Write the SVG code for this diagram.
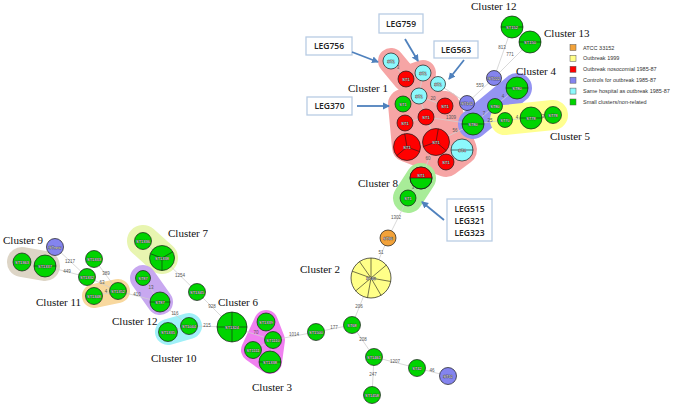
<svg xmlns="http://www.w3.org/2000/svg" width="677" height="407" viewBox="0 0 677 407">
<style>
.e{stroke:#cfcfcf;stroke-width:0.8}
.el{font-family:"Liberation Sans",sans-serif;font-size:4.5px;fill:#555;text-anchor:middle}
circle{stroke:#1a1a1a;stroke-width:0.7}
.g{fill:#00d400}.r{fill:#ff0000}.c{fill:#8cf8fc}.b{fill:#8484ee}.y{fill:#ffff88}.o{fill:#f2a23a}
.nl{font-family:"Liberation Sans",sans-serif;font-size:4px;fill:#fff;stroke:#333;stroke-width:0.6;paint-order:stroke;text-anchor:middle}
.dv{stroke:#1a1a1a;stroke-width:0.6;fill:none}
.cl{font-family:"Liberation Serif",serif;font-size:11px;fill:#111}
.lb{fill:#fff;stroke:#b8cce4;stroke-width:1.3}
.lt{font-family:"Open Sans","Liberation Sans",sans-serif;font-weight:600;font-size:8.5px;fill:#222;text-anchor:middle}
.ar{stroke:#4f81bd;stroke-width:1.8;fill:none;marker-end:url(#ah)}
.blob{fill:none;stroke-linecap:round;stroke-linejoin:round}
.lg{font-family:"Liberation Sans",sans-serif;font-size:5.5px;fill:#333}
.sq{stroke:#555;stroke-width:0.5}
</style>
<defs>
<marker id="ah" markerWidth="8" markerHeight="8" refX="6" refY="4" orient="auto" markerUnits="userSpaceOnUse">
<path d="M0,0.5 L7,4 L0,7.5 Z" fill="#4f81bd"/>
</marker>
</defs>

<g id="cluster-backgrounds">
<path class="blob" d="M391,61 L406,79 L423,73 L419,96" stroke="#f6a5a5" stroke-width="26"/>
<path d="M403,104 L445,106 L462,150 L446,162 L407,147 Z" fill="#f6a5a5" stroke="#f6a5a5" stroke-width="30" stroke-linejoin="round"/>
<path class="blob" d="M421,178 L408,198" stroke="#a8ec98" stroke-width="30"/>
<path class="blob" d="M473,124 L517,88" stroke="#9494f2" stroke-width="30"/>
<path class="blob" d="M505,120 L553,115" stroke="#ffff90" stroke-width="30"/>
<path class="blob" d="M22,262 L45,266" stroke="#ddd5c6" stroke-width="30"/>
<path class="blob" d="M94,296 L118,291" stroke="#f8d89e" stroke-width="24"/>
<path class="blob" d="M143,241 L162,258" stroke="#e8f5b0" stroke-width="32"/>
<path class="blob" d="M143,278 L160,302" stroke="#c8a8f0" stroke-width="26"/>
<path class="blob" d="M168,332 L189,326" stroke="#a0f0f8" stroke-width="26"/>
<path d="M266,322 L273,340 L270,362 L253,350 Z" fill="#f080f0" stroke="#f080f0" stroke-width="24" stroke-linejoin="round"/>
</g>

<g id="connectors">
<line class="e" x1="391" y1="61" x2="406" y2="79"/>
<line class="e" x1="406" y1="79" x2="423" y2="73"/>
<line class="e" x1="423" y1="73" x2="419" y2="96"/>
<line class="e" x1="423" y1="73" x2="438" y2="84"/>
<line class="e" x1="419" y1="96" x2="403" y2="104"/>
<line class="e" x1="419" y1="96" x2="426" y2="117"/>
<line class="e" x1="419" y1="96" x2="445" y2="106"/>
<line class="e" x1="426" y1="117" x2="405" y2="123"/>
<line class="e" x1="426" y1="117" x2="436" y2="142"/>
<line class="e" x1="436" y1="142" x2="407" y2="147"/>
<line class="e" x1="436" y1="142" x2="462" y2="150"/>
<line class="e" x1="436" y1="142" x2="446" y2="162"/>
<line class="e" x1="438" y1="84" x2="467" y2="103"/>
<line class="e" x1="426" y1="117" x2="473" y2="124"/>
<line class="e" x1="436" y1="142" x2="473" y2="124"/>
<line class="e" x1="467" y1="103" x2="494" y2="78"/>
<line class="e" x1="494" y1="78" x2="512" y2="27"/>
<line class="e" x1="494" y1="78" x2="530" y2="42"/>
<line class="e" x1="473" y1="124" x2="495" y2="106"/>
<line class="e" x1="495" y1="106" x2="517" y2="88"/>
<line class="e" x1="473" y1="124" x2="505" y2="120"/>
<line class="e" x1="505" y1="120" x2="531" y2="118"/>
<line class="e" x1="531" y1="118" x2="553" y2="115"/>
<line class="e" x1="436" y1="142" x2="421" y2="178"/>
<line class="e" x1="421" y1="178" x2="408" y2="198"/>
<line class="e" x1="408" y1="198" x2="388" y2="238"/>
<line class="e" x1="388" y1="238" x2="371" y2="278"/>
<line class="e" x1="371" y1="278" x2="352" y2="325"/>
<line class="e" x1="352" y1="325" x2="316" y2="332"/>
<line class="e" x1="352" y1="325" x2="374" y2="357"/>
<line class="e" x1="374" y1="357" x2="417" y2="368"/>
<line class="e" x1="417" y1="368" x2="448" y2="376"/>
<line class="e" x1="374" y1="357" x2="372" y2="395"/>
<line class="e" x1="316" y1="332" x2="273" y2="340"/>
<line class="e" x1="266" y1="322" x2="273" y2="340"/>
<line class="e" x1="273" y1="340" x2="253" y2="350"/>
<line class="e" x1="273" y1="340" x2="270" y2="362"/>
<line class="e" x1="232" y1="327" x2="273" y2="340"/>
<line class="e" x1="232" y1="327" x2="189" y2="326"/>
<line class="e" x1="189" y1="326" x2="168" y2="332"/>
<line class="e" x1="189" y1="326" x2="160" y2="302"/>
<line class="e" x1="232" y1="327" x2="197" y2="292"/>
<line class="e" x1="197" y1="292" x2="162" y2="258"/>
<line class="e" x1="143" y1="241" x2="162" y2="258"/>
<line class="e" x1="143" y1="278" x2="160" y2="302"/>
<line class="e" x1="160" y1="302" x2="118" y2="291"/>
<line class="e" x1="94" y1="296" x2="118" y2="291"/>
<line class="e" x1="87" y1="277" x2="118" y2="291"/>
<line class="e" x1="94" y1="259" x2="118" y2="291"/>
<line class="e" x1="87" y1="277" x2="45" y2="266"/>
<line class="e" x1="87" y1="277" x2="55" y2="247"/>
<line class="e" x1="22" y1="262" x2="45" y2="266"/>
</g>

<g id="edge-labels">
<text class="el" x="398" y="69">3</text>
<text class="el" x="433" y="100">20</text>
<text class="el" x="451" y="119">1309</text>
<text class="el" x="455" y="132">56</text>
<text class="el" x="480" y="87">559</text>
<text class="el" x="502" y="49">813</text>
<text class="el" x="510" y="56">771</text>
<text class="el" x="484" y="115">7</text>
<text class="el" x="503" y="98">4</text>
<text class="el" x="490" y="122">25</text>
<text class="el" x="517" y="119">4</text>
<text class="el" x="543" y="118">3</text>
<text class="el" x="428" y="160">60</text>
<text class="el" x="413" y="189">3</text>
<text class="el" x="396" y="219">1302</text>
<text class="el" x="381" y="254">51</text>
<text class="el" x="359" y="308">206</text>
<text class="el" x="334" y="329">177</text>
<text class="el" x="363" y="341">208</text>
<text class="el" x="395" y="363">1207</text>
<text class="el" x="432" y="372">46</text>
<text class="el" x="373" y="376">247</text>
<text class="el" x="294" y="336">1014</text>
<text class="el" x="256" y="334">70</text>
<text class="el" x="207" y="327">215</text>
<text class="el" x="175" y="315">116</text>
<text class="el" x="212" y="308">928</text>
<text class="el" x="180" y="277">1254</text>
<text class="el" x="151" y="289">13</text>
<text class="el" x="137" y="296">410</text>
<text class="el" x="106" y="293">4</text>
<text class="el" x="102" y="284">63</text>
<text class="el" x="106" y="275">389</text>
<text class="el" x="67" y="273">449</text>
<text class="el" x="70" y="263">1217</text>
</g>

<g id="n-c1a"><circle class="c" cx="391" cy="61" r="8"/><text class="nl" x="391" y="62.5">ST1</text></g>
<g id="n-c1b"><circle class="r" cx="406" cy="79" r="8"/><text class="nl" x="406" y="80.5">ST1</text></g>
<g id="n-c1c"><circle class="c" cx="423" cy="73" r="8"/><text class="nl" x="423" y="74.5">ST1</text></g>
<g id="n-c1d"><circle class="c" cx="438" cy="84" r="7.5"/><text class="nl" x="438" y="85.5">ST1</text></g>
<g id="n-c1e"><circle class="c" cx="419" cy="96" r="8"/><text class="nl" x="419" y="97.5">ST1</text></g>
<g id="n-c1f"><circle class="g" cx="403" cy="104" r="8"/><text class="nl" x="403" y="105.5">ST1</text></g>
<g id="n-c1g"><circle class="r" cx="445" cy="106" r="8"/><text class="nl" x="445" y="107.5">ST1</text></g>
<g id="n-c1h"><circle class="r" cx="426" cy="117" r="8"/><text class="nl" x="426" y="118.5">ST1</text></g>
<g id="n-c1i"><circle class="r" cx="405" cy="123" r="8"/><text class="nl" x="405" y="124.5">ST1</text></g>
<g id="n-c1j"><circle class="r" cx="407" cy="147" r="13.5"/><path class="dv" d="M407,147 L404.7,133.7 M407,147 L419.7,151.6 M407,147 L396.7,155.7"/><text class="nl" x="407" y="148.5">ST1</text></g>
<g id="n-c1k"><circle class="r" cx="436" cy="142" r="13.5"/><path class="dv" d="M436,142 L438.3,128.7 M436,142 L446.3,150.7 M436,142 L423.3,146.6"/><text class="nl" x="436" y="143.5">ST1</text></g>
<g id="n-c1l"><circle class="c" cx="462" cy="150" r="11"/><path class="dv" d="M451,150 H473"/><text class="nl" x="462" y="151.5">ST4</text></g>
<g id="n-c1m"><circle class="r" cx="446" cy="162" r="8"/><text class="nl" x="446" y="163.5">ST1</text></g>
<g id="n-st142"><circle class="b" cx="467" cy="103" r="7.5"/><text class="nl" x="467" y="104.5">ST142</text></g>
<g id="n-c4a"><circle class="g" cx="473" cy="124" r="11"/><path class="dv" d="M462,124 H484"/><text class="nl" x="473" y="125.5">ST80</text></g>
<g id="n-c4b"><circle class="g" cx="495" cy="106" r="7.5"/><text class="nl" x="495" y="107.5">ST80</text></g>
<g id="n-c4c"><circle class="g" cx="517" cy="88" r="11"/><path class="dv" d="M506,88 H528"/><text class="nl" x="517" y="89.5">ST80</text></g>
<g id="n-c5a"><circle class="g" cx="505" cy="120" r="7.5"/><text class="nl" x="505" y="121.5">ST70</text></g>
<g id="n-c5b"><circle class="g" cx="531" cy="118" r="11"/><path class="dv" d="M520,118 H542"/><text class="nl" x="531" y="119.5">ST78</text></g>
<g id="n-c5c"><circle class="g" cx="553" cy="115" r="8.5"/><text class="nl" x="553" y="116.5">ST78</text></g>
<g id="n-blue222"><circle class="b" cx="494" cy="78" r="7.5"/><text class="nl" x="494" y="79.5">ST222</text></g>
<g id="n-c12top"><circle class="g" cx="512" cy="27" r="11"/><path class="dv" d="M501,27 H523"/><text class="nl" x="512" y="28.5">ST152</text></g>
<g id="n-c13"><circle class="g" cx="530" cy="42" r="11"/><path class="dv" d="M519,42 H541"/><text class="nl" x="530" y="43.5">ST150</text></g>
<g id="n-c8a"><circle class="g" cx="421" cy="178" r="11"/><path class="r" d="M410,178 A11,11 0 0 1 432,178 Z"/><circle cx="421" cy="178" r="11" fill="none"/><path class="dv" d="M410,178 H432"/><text class="nl" x="421" y="177">ST1</text></g>
<g id="n-c8b"><circle class="g" cx="408" cy="198" r="8"/><text class="nl" x="408" y="199.5">ST1</text></g>
<g id="n-atcc"><circle class="o" cx="388" cy="238" r="8"/><text class="nl" x="388" y="239.5">ST36</text></g>
<g id="n-c2"><circle class="y" cx="371" cy="278" r="20"/><path class="dv" d="M371,278 L371,258 M371,278 L386.3,265.1 M371,278 L390.7,281.5 M371,278 L381,295.3 M371,278 L367.5,297.7 M371,278 L355.7,290.9 M371,278 L352.2,271.2 M371,278 L359.5,261.6"/><text class="nl" x="371" y="279.5">ST40</text></g>
<g id="n-g68"><circle class="g" cx="352" cy="325" r="8.5"/><text class="nl" x="352" y="326.5">ST68</text></g>
<g id="n-g1500"><circle class="g" cx="316" cy="332" r="8.5"/><text class="nl" x="316" y="333.5">ST1500</text></g>
<g id="n-g1461"><circle class="g" cx="374" cy="357" r="8.5"/><text class="nl" x="374" y="358.5">ST1461</text></g>
<g id="n-g42"><circle class="g" cx="417" cy="368" r="8.5"/><text class="nl" x="417" y="369.5">ST42</text></g>
<g id="n-b42"><circle class="b" cx="448" cy="376" r="8.5"/><text class="nl" x="448" y="377.5">ST42</text></g>
<g id="n-g1458"><circle class="g" cx="372" cy="395" r="8.5"/><text class="nl" x="372" y="396.5">ST1458</text></g>
<g id="n-c3a"><circle class="g" cx="266" cy="322" r="9"/><text class="nl" x="266" y="323.5">ST1339</text></g>
<g id="n-c3b"><circle class="g" cx="273" cy="340" r="8.5"/><text class="nl" x="273" y="341.5">ST1110</text></g>
<g id="n-c3c"><circle class="g" cx="253" cy="350" r="8.5"/><text class="nl" x="253" y="351.5">ST1111</text></g>
<g id="n-c3d"><circle class="g" cx="270" cy="362" r="11"/><path class="dv" d="M259,362 H281"/><text class="nl" x="270" y="363.5">ST1338</text></g>
<g id="n-c6"><circle class="g" cx="232" cy="327" r="15"/><path class="dv" d="M217,327 H247 M232,312 V342"/><text class="nl" x="232" y="328.5">ST1324</text></g>
<g id="n-c10a"><circle class="g" cx="189" cy="326" r="8.5"/><text class="nl" x="189" y="327.5">ST1044</text></g>
<g id="n-c10b"><circle class="g" cx="168" cy="332" r="9.5"/><text class="nl" x="168" y="333.5">ST1335</text></g>
<g id="n-g1345"><circle class="g" cx="197" cy="292" r="8.5"/><text class="nl" x="197" y="293.5">ST1345</text></g>
<g id="n-c7a"><circle class="g" cx="143" cy="241" r="8.5"/><text class="nl" x="143" y="242.5">ST1336</text></g>
<g id="n-c7b"><circle class="g" cx="162" cy="258" r="12.5"/><path class="dv" d="M162,258 L150.3,253.7 M162,258 L172.8,251.8 M162,258 L162,270.5"/><text class="nl" x="162" y="259.5">ST1338</text></g>
<g id="n-c12a"><circle class="g" cx="143" cy="278" r="7.5"/><text class="nl" x="143" y="279.5">ST87</text></g>
<g id="n-c12b"><circle class="g" cx="160" cy="302" r="10"/><path class="dv" d="M150,302 H170"/><text class="nl" x="160" y="303.5">ST87</text></g>
<g id="n-c11a"><circle class="g" cx="94" cy="296" r="8.5"/><text class="nl" x="94" y="297.5">ST1348</text></g>
<g id="n-c11b"><circle class="g" cx="118" cy="291" r="8.5"/><text class="nl" x="118" y="292.5">ST1352</text></g>
<g id="n-g1333"><circle class="g" cx="94" cy="259" r="8.5"/><text class="nl" x="94" y="260.5">ST1333</text></g>
<g id="n-g1332"><circle class="g" cx="87" cy="277" r="8.5"/><text class="nl" x="87" y="278.5">ST1332</text></g>
<g id="n-bnew"><circle class="b" cx="55" cy="247" r="8.5"/><text class="nl" x="55" y="248.5">STnew</text></g>
<g id="n-c9a"><circle class="g" cx="22" cy="262" r="9"/><text class="nl" x="22" y="263.5">ST1363</text></g>
<g id="n-c9b"><circle class="g" cx="45" cy="266" r="11"/><path class="dv" d="M34,266 H56"/><text class="nl" x="45" y="267.5">ST1337</text></g>

<g id="cluster-labels">
<text class="cl" x="348" y="92">Cluster 1</text>
<text class="cl" x="300" y="273">Cluster 2</text>
<text class="cl" x="252" y="391">Cluster 3</text>
<text class="cl" x="516" y="75">Cluster 4</text>
<text class="cl" x="550" y="140">Cluster 5</text>
<text class="cl" x="218" y="306">Cluster 6</text>
<text class="cl" x="168" y="237">Cluster 7</text>
<text class="cl" x="358" y="187">Cluster 8</text>
<text class="cl" x="3" y="244">Cluster 9</text>
<text class="cl" x="151" y="362">Cluster 10</text>
<text class="cl" x="36" y="306">Cluster 11</text>
<text class="cl" x="112" y="325">Cluster 12</text>
<text class="cl" x="471" y="10">Cluster 12</text>
<text class="cl" x="544" y="37">Cluster 13</text>
</g>

<g id="callouts">
<rect class="lb" x="306" y="37" width="46" height="18"/><text class="lt" x="329" y="49">LEG756</text>
<rect class="lb" x="379" y="14" width="44" height="19"/><text class="lt" x="401" y="26.5">LEG759</text>
<rect class="lb" x="434" y="41" width="44" height="17"/><text class="lt" x="456" y="52.5">LEG563</text>
<rect class="lb" x="307" y="97" width="45" height="18"/><text class="lt" x="329.5" y="109">LEG370</text>
<rect class="lb" x="447" y="199" width="45" height="42"/>
<text class="lt" x="469.5" y="212">LEG515</text>
<text class="lt" x="469.5" y="224">LEG321</text>
<text class="lt" x="469.5" y="236">LEG323</text>
<path class="ar" d="M352,52 L378,62"/>
<path class="ar" d="M405,39 L418,61"/>
<path class="ar" d="M464,60 L449,79"/>
<path class="ar" d="M357,106 L389,106"/>
<path class="ar" d="M444,220 L422,202"/>
</g>

<g id="legend">
<rect class="sq o" x="570" y="44.5" width="6" height="6"/><text class="lg" x="583" y="49.5">ATCC 33152</text>
<rect class="sq y" x="570" y="55.4" width="6" height="6"/><text class="lg" x="583" y="60.4">Outbreak 1999</text>
<rect class="sq r" x="570" y="66.3" width="6" height="6"/><text class="lg" x="583" y="71.3">Outbreak nosocomial 1985-87</text>
<rect class="sq b" x="570" y="77.2" width="6" height="6"/><text class="lg" x="583" y="82.2">Controls for outbreak 1985-87</text>
<rect class="sq c" x="570" y="88.1" width="6" height="6"/><text class="lg" x="583" y="93.1">Same hospital as outbreak 1985-87</text>
<rect class="sq g" x="570" y="99" width="6" height="6"/><text class="lg" x="583" y="104">Small clusters/non-related</text>
</g>
</svg>
